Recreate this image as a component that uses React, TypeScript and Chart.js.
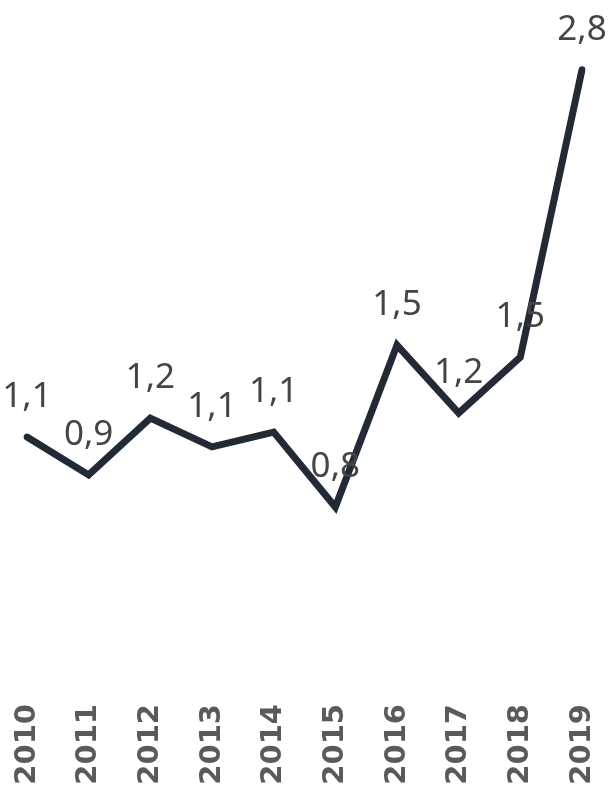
import React, { useEffect, useRef } from "react";
import { Chart, registerables } from "chart.js";

Chart.register(...registerables);

const years = ["2010", "2011", "2012", "2013", "2014", "2015", "2016", "2017", "2018", "2019"];
const values = [1.12, 0.947, 1.207, 1.075, 1.143, 0.8, 1.541, 1.23, 1.486, 2.8];

const LINE_COLOR = "#222a36";
const LABEL_COLOR = "#454545";
const TICK_COLOR = "#5a5a5a";

const valueLabels = {
  id: "valueLabels",
  afterDatasetsDraw(chart: any) {
    const ctx = chart.ctx;
    const meta = chart.getDatasetMeta(0);
    ctx.save();
    ctx.font = "400 35px 'Noto Sans'";
    ctx.fillStyle = LABEL_COLOR;
    ctx.textAlign = "center";
    ctx.textBaseline = "alphabetic";
    meta.data.forEach((pt: any, i: number) => {
      const txt = values[i].toFixed(1).replace(".", ",");
      ctx.fillText(txt, pt.x, pt.y - 30);
    });
    ctx.restore();
  },
};

export default function App() {
  const ref = useRef<HTMLCanvasElement | null>(null);
  useEffect(() => {
    const chart = new Chart(ref.current!, {
      type: "line",
      data: {
        labels: years,
        datasets: [
          {
            data: values,
            borderColor: LINE_COLOR,
            borderWidth: 7,
            pointRadius: 0,
            borderCapStyle: "round",
            borderJoinStyle: "miter",
            tension: 0,
          },
        ],
      },
      options: {
        animation: false,
        responsive: false,
        layout: { padding: { left: 27, right: 31, top: 26, bottom: 0 } },
        plugins: { legend: { display: false }, tooltip: { enabled: false } },
        scales: {
          x: {
            offset: false,
            grid: { display: false, drawTicks: false },
            border: { display: false },
            afterFit: (s: any) => {
              s.height = 110;
              s.paddingLeft = 0;
              s.paddingRight = 0;
            },
            ticks: {
              autoSkip: false,
              maxRotation: 90,
              minRotation: 90,
              padding: 22,
              color: TICK_COLOR,
              font: { family: "'DejaVu Sans'", weight: "bold", size: 29 },
            },
          },
          y: {
            display: false,
            min: 0,
            max: 3,
          },
        },
      },
      plugins: [valueLabels],
    });
    return () => chart.destroy();
  }, []);
  return (
    <div style={{ position: "fixed", left: 0, top: 0, width: 613, height: 792, background: "#fff" }}>
      <canvas ref={ref} width={613} height={792} style={{ display: "block" }} />
    </div>
  );
}
